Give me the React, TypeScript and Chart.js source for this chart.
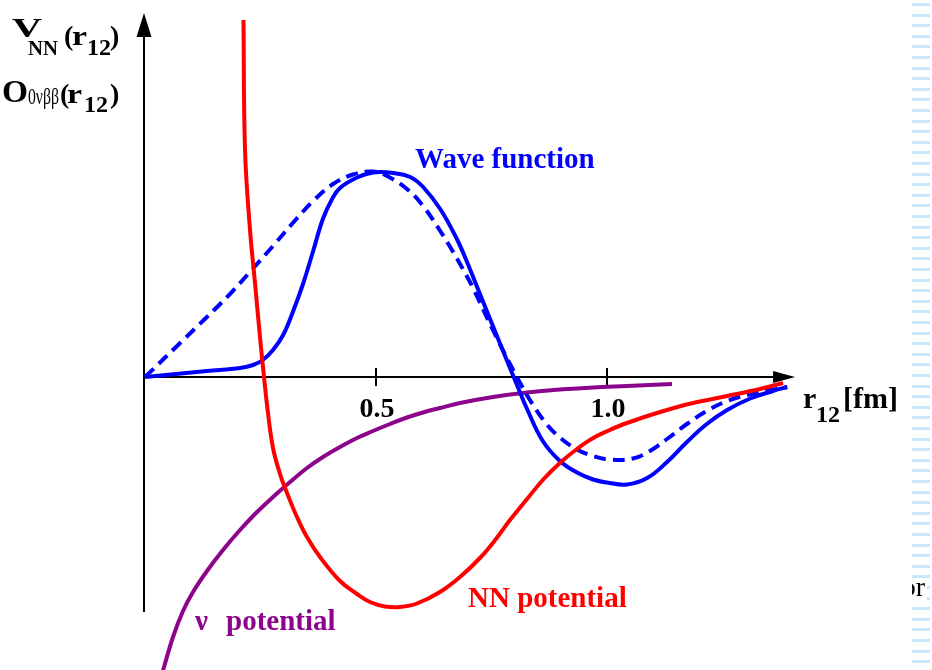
import { useEffect, useRef } from "react";
import { Chart, registerables } from "chart.js";

Chart.register(...registerables);

const SERIF = '"Liberation Serif", "Times New Roman", serif';

// r12 in fm, amplitudes in arbitrary units
const waveX = [0, 0.134, 0.206, 0.234, 0.255, 0.277, 0.299, 0.32, 0.342, 0.364, 0.385, 0.405, 0.422, 0.459, 0.494, 0.537, 0.574, 0.602, 0.639, 0.675, 0.697, 0.725, 0.753, 0.79, 0.807, 0.827, 0.861, 0.898, 0.935, 0.97, 1.0, 1.043, 1.087, 1.13, 1.173, 1.216, 1.26, 1.31, 1.359, 1.39];
const waveY = [0, 0.06, 0.09, 0.12, 0.17, 0.27, 0.42, 0.65, 0.93, 1.26, 1.58, 1.78, 1.89, 1.995, 2.045, 2.04, 2.0, 1.9, 1.68, 1.38, 1.15, 0.83, 0.51, 0.09, -0.1, -0.32, -0.64, -0.84, -0.955, -1.025, -1.055, -1.075, -1.01, -0.85, -0.65, -0.47, -0.33, -0.215, -0.14, -0.1];

const corrX = [0, 0.076, 0.134, 0.184, 0.227, 0.277, 0.32, 0.364, 0.407, 0.45, 0.494, 0.524, 0.567, 0.602, 0.639, 0.667, 0.688, 0.71, 0.753, 0.79, 0.812, 0.84, 0.87, 0.898, 0.935, 0.97, 1.006, 1.056, 1.093, 1.13, 1.173, 1.216, 1.26, 1.303, 1.353, 1.39];
const corrY = [0, 0.34, 0.6, 0.83, 1.05, 1.31, 1.54, 1.76, 1.93, 2.025, 2.055, 2.01, 1.88, 1.71, 1.46, 1.25, 1.08, 0.89, 0.47, 0.13, -0.06, -0.28, -0.475, -0.605, -0.725, -0.79, -0.825, -0.815, -0.74, -0.62, -0.47, -0.34, -0.24, -0.18, -0.13, -0.1];

const nnX = [0.2132, 0.2165, 0.2273, 0.2381, 0.2489, 0.2576, 0.2662, 0.2771, 0.2922, 0.3074, 0.329, 0.3506, 0.3788, 0.4221, 0.4589, 0.487, 0.5195, 0.5519, 0.5887, 0.6385, 0.6818, 0.725, 0.758, 0.79, 0.827, 0.861, 0.898, 0.935, 0.97, 1.006, 1.043, 1.115, 1.186, 1.26, 1.331, 1.381];
const nnY = [3.57, 2.27, 1.47, 0.94, 0.4, 0.0, -0.36, -0.71, -0.97, -1.16, -1.4, -1.6, -1.8, -2.04, -2.17, -2.25, -2.295, -2.3, -2.265, -2.15, -2.0, -1.81, -1.63, -1.43, -1.22, -1.03, -0.86, -0.72, -0.61, -0.53, -0.46, -0.35, -0.26, -0.19, -0.12, -0.06];

const nuX = [0.0368, 0.0606, 0.0823, 0.1039, 0.1342, 0.1688, 0.2056, 0.2424, 0.2771, 0.3139, 0.3506, 0.3853, 0.4221, 0.4589, 0.4935, 0.5303, 0.5671, 0.6017, 0.6385, 0.6818, 0.7532, 0.8268, 0.8983, 0.9697, 1.0433, 1.1407];
const nuY = [-2.97, -2.6, -2.34, -2.15, -1.94, -1.73, -1.53, -1.35, -1.2, -1.05, -0.91, -0.8, -0.7, -0.61, -0.54, -0.47, -0.405, -0.355, -0.31, -0.26, -0.2, -0.155, -0.125, -0.105, -0.09, -0.07];

const xTicks = [0.5, 1.0];
const xTickLabels = ["0.5", "1.0"];

// visible extent of the drawn axes
const xAxisEnd = 1.407;
const yAxisBottom = -2.35;
const yAxisTop = 3.64;

const BLUE = "#0000ff";
const RED = "#ff0000";
const PURPLE = "#8c048c";

const pts = (xs: number[], ys: number[]) => xs.map((x, i) => ({ x, y: ys[i] }));

function text(
  ctx: CanvasRenderingContext2D,
  s: string,
  x: number,
  y: number,
  size: number,
  color: string,
  opts: { weight?: string; width?: number; align?: CanvasTextAlign } = {}
) {
  ctx.save();
  ctx.font = `${opts.weight ?? "bold"} ${size}px ${SERIF}`;
  ctx.fillStyle = color;
  ctx.textBaseline = "alphabetic";
  ctx.textAlign = opts.align ?? "left";
  if (opts.width) {
    const w = ctx.measureText(s).width;
    ctx.translate(x, y);
    ctx.scale(opts.width / w, 1);
    ctx.fillText(s, 0, 0);
  } else {
    ctx.fillText(s, x, y);
  }
  ctx.restore();
}

const decor = {
  id: "decor",
  beforeDatasetsDraw(chart: any) {
    const { ctx } = chart;
    const xs = chart.scales.x;
    const ys = chart.scales.y;
    const x0 = Math.round(xs.getPixelForValue(0)) - 1;
    const y0 = ys.getPixelForValue(0);
    const xEnd = xs.getPixelForValue(xAxisEnd);
    const yBot = ys.getPixelForValue(yAxisBottom);
    const yTop = ys.getPixelForValue(yAxisTop);

    ctx.save();
    // page strip on the right edge
    ctx.fillStyle = "#c8e6f8";
    for (let y = 3; y < 670; y += 10.6) {
      ctx.fillRect(912, Math.round(y), 18, 3);
    }

    ctx.strokeStyle = "#000";
    ctx.fillStyle = "#000";
    ctx.lineWidth = 2;
    ctx.beginPath();
    ctx.moveTo(x0, yBot);
    ctx.lineTo(x0, yTop + 20);
    ctx.moveTo(x0, y0);
    ctx.lineTo(xEnd - 18, y0);
    for (const t of xTicks) {
      const px = Math.round(xs.getPixelForValue(t));
      ctx.moveTo(px, y0 - 9);
      ctx.lineTo(px, y0 + 9);
    }
    ctx.stroke();

    // arrow heads
    ctx.beginPath();
    ctx.moveTo(x0, yTop);
    ctx.lineTo(x0 - 7.5, yTop + 24);
    ctx.lineTo(x0 + 7.5, yTop + 24);
    ctx.closePath();
    ctx.fill();
    ctx.beginPath();
    ctx.moveTo(xEnd, y0);
    ctx.lineTo(xEnd - 22, y0 - 6);
    ctx.lineTo(xEnd - 22, y0 + 6);
    ctx.closePath();
    ctx.fill();
    ctx.restore();
  },
  afterDatasetsDraw(chart: any) {
    const { ctx } = chart;
    const xs = chart.scales.x;
    const ys = chart.scales.y;
    const y0 = ys.getPixelForValue(0);

    xTicks.forEach((t, i) => {
      text(ctx, xTickLabels[i], xs.getPixelForValue(t) + 1, y0 + 40, 28, "#000", { align: "center" });
    });

    // x-axis title
    text(ctx, "r", 803, 408, 30, "#000");
    text(ctx, "12", 816, 422, 24, "#000");
    text(ctx, "[fm]", 843, 408, 30, "#000");

    // y-axis title
    text(ctx, "V", 12, 37, 27, "#000", { width: 30 });
    text(ctx, "NN", 28, 55, 20, "#000", { width: 30 });
    text(ctx, "(", 64, 45, 28, "#000");
    text(ctx, "r", 72, 45, 28, "#000", { width: 15 });
    text(ctx, "12", 87, 55, 24, "#000");
    text(ctx, ")", 110, 45, 28, "#000");

    text(ctx, "O", 2, 102, 31, "#000", { width: 26 });
    text(ctx, "0νββ", 28, 104, 23, "#000", { weight: "normal", width: 31 });
    text(ctx, "(", 60, 103, 28, "#000");
    text(ctx, "r", 67, 103, 28, "#000", { width: 15 });
    text(ctx, "12", 84, 112, 24, "#000");
    text(ctx, ")", 110, 103, 28, "#000");

    // curve captions
    text(ctx, "Wave function", 415, 168, 29, BLUE);
    text(ctx, "NN potential", 468, 607, 29, RED);
    text(ctx, "ν", 195, 630, 29, PURPLE);
    text(ctx, "potential", 226, 630, 29, PURPLE);

    // clipped fragment at the right edge
    ctx.save();
    ctx.beginPath();
    ctx.rect(912, 560, 20, 50);
    ctx.clip();
    ctx.fillStyle = "#fff";
    ctx.fillRect(912, 578, 15, 22);
    text(ctx, "or", 925, 596, 28, "#000", { weight: "normal", align: "right" });
    ctx.restore();
  },
};

export default function App() {
  const ref = useRef<HTMLCanvasElement | null>(null);

  useEffect(() => {
    if (!ref.current) return;
    const line = (data: any, color: string, order: number, dash: number[] = []) => ({
      data,
      borderColor: color,
      borderWidth: 4,
      borderDash: dash,
      pointRadius: 0,
      fill: false,
      tension: 0.4,
      order,
    });
    const chart = new Chart(ref.current, {
      type: "line",
      data: {
        datasets: [
          { label: "NN potential", ...line(pts(nnX, nnY), RED, 0) },
          { label: "Wave function", ...line(pts(waveX, waveY), BLUE, 1) },
          { label: "Correlated wave function", ...line(pts(corrX, corrY), BLUE, 2, [12, 7]) },
          { label: "ν potential", ...line(pts(nuX, nuY), PURPLE, 3) },
        ] as any,
      },
      options: {
        animation: false,
        responsive: false,
        maintainAspectRatio: false,
        events: [],
        layout: { padding: 0 },
        plugins: { legend: { display: false }, tooltip: { enabled: false } },
        scales: {
          x: { type: "linear", min: -145 / 462, max: (932 - 145) / 462, display: false },
          y: { type: "linear", min: -2.93, max: 3.77, display: false },
        },
      },
      plugins: [decor],
    });
    return () => chart.destroy();
  }, []);

  return (
    <div style={{ position: "fixed", left: 0, top: 0, width: 932, height: 670, background: "#fff" }}>
      <canvas ref={ref} width={932} height={670} style={{ display: "block" }} />
    </div>
  );
}
